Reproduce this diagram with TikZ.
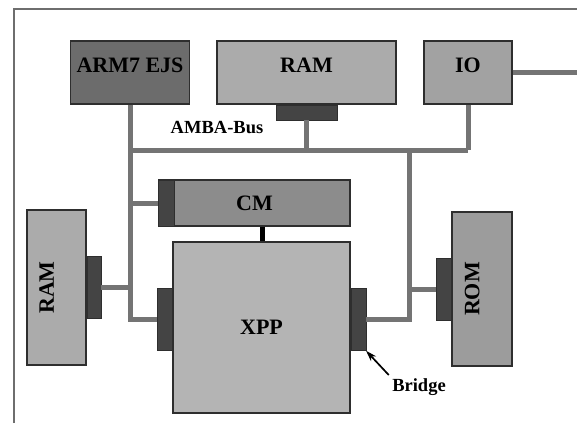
\documentclass[tikz,border=0pt]{standalone}
\usepackage{fontspec}
\setmainfont{Liberation Serif}
\usetikzlibrary{arrows.meta,positioning,calc}
\definecolor{edge}{HTML}{2E2E2E}
\definecolor{framegray}{HTML}{6E6E6E}
\definecolor{busgray}{HTML}{747474}
\definecolor{portdark}{HTML}{444444}
\definecolor{armgray}{HTML}{6C6C6C}
\definecolor{ramgray}{HTML}{ABABAB}
\definecolor{iogray}{HTML}{A2A2A2}
\definecolor{cmgray}{HTML}{8C8C8C}
\definecolor{xppgray}{HTML}{B4B4B4}
\definecolor{romgray}{HTML}{9C9C9C}
\tikzset{
  >=Stealth,
  block/.style={
    draw=edge,
    line width=1.1pt,
    fill=#1,
    inner sep=0pt,
    font=\bfseries\fontsize{22}{26}\selectfont,
    text=black,
  },
  toptext/.style={text depth=15pt},
  port/.style={fill=portdark, draw=edge, line width=0.5pt, inner sep=0pt},
  bus/.style={draw=busgray, line width=5pt, line join=miter},
  caption/.style={font=\bfseries\fontsize{18.5}{22}\selectfont, text=black},
}

\begin{document}
\begin{tikzpicture}[x=1pt,y=-1pt]
  \useasboundingbox (0,0) rectangle (577,423);
  \draw[framegray, line width=2pt] (14,423) -- (14,9) -- (577,9);

  % top row
  \node[block=armgray, toptext, minimum width=119pt, minimum height=63pt] (arm) at (130,72.5) {ARM7 EJS};
  \node[block=ramgray, toptext, minimum width=179pt, minimum height=63pt] (ramtop) at (306.5,72.5) {RAM};
  \node[block=iogray, toptext, minimum width=88pt, minimum height=63pt] (io) at (468,72.5) {IO};
  \node[port, minimum width=61pt, minimum height=15pt, anchor=north] (ramport) at (ramtop.south) {};
  \node[caption] (amba) at (217,128) {AMBA-Bus};

  % CM and XPP
  \node[block=cmgray, minimum width=191pt, minimum height=46pt] (cm) at (254.5,203) {CM};
  \node[port, minimum width=16pt, minimum height=46pt, anchor=west] (cmstrip) at (cm.west) {};
  \node[block=xppgray, minimum width=177pt, minimum height=171pt] (xpp) at (261.5,327.5) {XPP};
  \node[port, minimum width=15pt, minimum height=62pt, anchor=east] (xppl) at ($(xpp.west)+(0,-8)$) {};
  \node[port, minimum width=15pt, minimum height=62pt, anchor=west] (xppr) at ($(xpp.east)+(0,-8)$) {};

  % side memories
  \node[block=ramgray, rotate=90, text depth=20pt, minimum width=155pt, minimum height=59pt] (raml) at (56.5,287.5) {RAM};
  \node[port, minimum width=14pt, minimum height=62pt, anchor=west] (ramlport) at (raml.south) {};
  \node[block=romgray, rotate=90, text depth=20pt, minimum width=154pt, minimum height=60pt] (rom) at (482,289) {ROM};
  \node[port, minimum width=15pt, minimum height=62pt, anchor=east] (romport) at (rom.north) {};

  % AMBA bus
  \coordinate (busL) at (arm.south |- 0,150);
  \coordinate (busR) at (io.south |- 0,150);
  \coordinate (busD) at (409,150);
  \coordinate (ioout) at (577,72);
  \draw[bus] (busL) -- (busR);
  \draw[bus] (io.south) -- (busR);
  \draw[bus] (ramport.south) -- (ramport.south |- busL);
  \draw[bus] (arm.south) |- (xppl.west);
  \draw[bus] (cm.west -| arm.south) -- (cm.west);
  \draw[bus] (ramlport.east) -- (ramlport.east -| arm.south);
  \draw[bus] (busD) |- (xppr.east);
  \draw[bus] (romport.west -| busD) -- (romport.west);
  \draw[bus] (io.east |- ioout) -- (ioout);
  \draw[black, line width=5pt] (cm.south -| 262,0) -- (xpp.north -| 262,0);

  % bridge
  \node[caption] (bridge) at (419,387) {Bridge};
  \draw[-{Stealth[length=11pt,width=7pt]}, line width=1.7pt] (bridge.north west) -- (xppr.south east);
\end{tikzpicture}
\end{document}
